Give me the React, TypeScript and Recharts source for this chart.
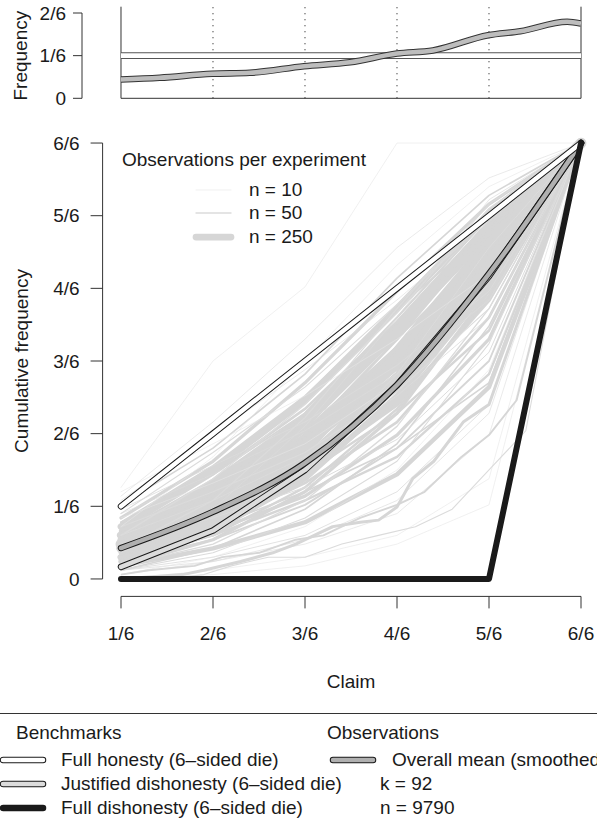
import React from "react";
import { LineChart, Line, XAxis, YAxis, ReferenceLine } from "recharts";

const FONT = "'Liberation Sans', Arial, Helvetica, sans-serif";
const INK = "#1a1a1a";

const claims = [1, 2, 3, 4, 5, 6];
const claimLabels = ["1/6", "2/6", "3/6", "4/6", "5/6", "6/6"];
const cumTicks = [0, 1 / 6, 2 / 6, 3 / 6, 4 / 6, 5 / 6, 1];
const cumLabels = ["0", "1/6", "2/6", "3/6", "4/6", "5/6", "6/6"];
const freqTicks = [0, 1 / 6, 2 / 6];
const freqLabels = ["0", "1/6", "2/6"];

// benchmarks (cumulative frequency at claims 1..6)
const honestyCum = [1 / 6, 2 / 6, 3 / 6, 4 / 6, 5 / 6, 1];
const justifiedCum = [1 / 36, 4 / 36, 9 / 36, 16 / 36, 25 / 36, 1];
const dishonestyCum = [0, 0, 0, 0, 0, 1];
const honestyFreq = [1 / 6, 1 / 6, 1 / 6, 1 / 6, 1 / 6, 1 / 6];

// overall mean (smoothed)
const meanCum = [0.071, 0.154, 0.266, 0.445, 0.7, 1];
const meanFreqClaims = [1, 1.42, 1.99, 2.4, 2.99, 3.49, 4, 4.39, 4.99, 5.34, 5.85, 6];
const meanFreq = [0.0735, 0.08, 0.0957, 0.0996, 0.1254, 0.141, 0.175, 0.187, 0.2466, 0.262, 0.299, 0.292];

// single experiments: cumulative frequency at claims 1..6
const expCum: number[][] = [
  [0.21, 0.5, 0.67, 1, 1, 1],
  [0.19, 0.36, 0.55, 0.76, 0.92, 1],
  [0.17, 0.3, 0.47, 0.69, 0.88, 1],
  [0.14, 0.27, 0.45, 0.66, 0.86, 1],
  [0.12, 0.25, 0.41, 0.62, 0.84, 1],
  [0.1, 0.22, 0.37, 0.58, 0.81, 1],
  [0.09, 0.2, 0.35, 0.56, 0.8, 1],
  [0.08, 0.18, 0.32, 0.52, 0.77, 1],
  [0.07, 0.16, 0.3, 0.5, 0.75, 1],
  [0.06, 0.15, 0.28, 0.47, 0.73, 1],
  [0.05, 0.13, 0.26, 0.45, 0.71, 1],
  [0.04, 0.11, 0.23, 0.42, 0.69, 1],
  [0.03, 0.09, 0.2, 0.38, 0.66, 1],
  [0.11, 0.21, 0.33, 0.5, 0.72, 1],
  [0.13, 0.24, 0.38, 0.55, 0.76, 1],
  [0.06, 0.17, 0.33, 0.55, 0.8, 1],
  [0.09, 0.19, 0.31, 0.46, 0.68, 1],
  [0.05, 0.12, 0.22, 0.36, 0.6, 1],
  [0.02, 0.07, 0.16, 0.31, 0.58, 1],
  [0.08, 0.15, 0.25, 0.4, 0.64, 1],
  [0.1, 0.23, 0.4, 0.61, 0.85, 1],
  [0.15, 0.29, 0.44, 0.63, 0.83, 1],
  [0.07, 0.14, 0.24, 0.38, 0.57, 1],
  [0.04, 0.09, 0.17, 0.3, 0.5, 1],
  [0.03, 0.07, 0.13, 0.24, 0.44, 1],
  [0.02, 0.05, 0.1, 0.2, 0.4, 1],
  [0.01, 0.04, 0.08, 0.15, 0.33, 1],
  [0, 0.01, 0.03, 0.08, 0.17, 1],
  [0.12, 0.2, 0.29, 0.43, 0.62, 1],
  [0.18, 0.33, 0.48, 0.64, 0.82, 1],
  [0.16, 0.26, 0.36, 0.49, 0.66, 1],
  [0.05, 0.14, 0.29, 0.51, 0.78, 1],
  [0.07, 0.17, 0.31, 0.49, 0.74, 1],
  [0.09, 0.21, 0.36, 0.57, 0.79, 1],
  [0.06, 0.13, 0.24, 0.41, 0.67, 1],
  [0.11, 0.24, 0.39, 0.59, 0.82, 1],
  [0.04, 0.1, 0.21, 0.39, 0.65, 1],
  [0.08, 0.19, 0.34, 0.53, 0.78, 1],
  [0.03, 0.08, 0.18, 0.35, 0.62, 1],
  [0.13, 0.26, 0.42, 0.62, 0.8, 1],
  [0.02, 0.06, 0.14, 0.27, 0.54, 1],
  [0.1, 0.18, 0.28, 0.42, 0.6, 1],
  [0.06, 0.16, 0.35, 0.6, 0.87, 1],
  [0.14, 0.22, 0.31, 0.45, 0.7, 1],
  [0.05, 0.11, 0.19, 0.33, 0.55, 1],
  [0.09, 0.17, 0.27, 0.44, 0.7, 1],
  [0.07, 0.18, 0.37, 0.62, 0.86, 1],
  [0.12, 0.28, 0.5, 0.72, 0.9, 1],
  [0.03, 0.1, 0.25, 0.47, 0.76, 1],
  [0.01, 0.05, 0.12, 0.25, 0.48, 1],
  [0.06, 0.12, 0.2, 0.3, 0.45, 1],
  [0.02, 0.04, 0.09, 0.18, 0.38, 1],
  [0.08, 0.14, 0.21, 0.32, 0.52, 1],
  [0.15, 0.24, 0.34, 0.47, 0.64, 1],
  [0.05, 0.1, 0.18, 0.28, 0.47, 1],
  [0.11, 0.19, 0.3, 0.47, 0.74, 1],
  [0.07, 0.15, 0.27, 0.45, 0.72, 1],
  [0.05, 0.12, 0.25, 0.44, 0.7, 1],
  [0.04, 0.12, 0.27, 0.49, 0.77, 1],
  [0.09, 0.2, 0.38, 0.6, 0.83, 1],
  [0.2, 0.31, 0.42, 0.55, 0.7, 1],
  [0, 0.02, 0.05, 0.1, 0.23, 1],
];
const expN = [
  10, 20, 60, 120, 250, 300, 180, 400, 220, 150,
  260, 200, 120, 90, 70, 110, 80, 100, 60, 140,
  50, 40, 90, 70, 160, 30, 20, 10, 40, 20,
  30, 200, 300, 250, 180, 100, 90, 130, 50, 60,
  40, 30, 25, 15, 120, 200, 45, 15, 35, 12,
  60, 25, 35, 20, 90, 160, 350, 230, 140, 80,
  12, 15,
];

// experiments reported on a finer claim scale
const fineClaimsA = [1, 1.67, 1.9, 2.3, 2.65, 2.9, 3.3, 3.6, 3.8, 4.0, 4.17, 4.4, 4.72, 5.0, 6];
const fineCumA = [0, 0.01, 0.02, 0.04, 0.06, 0.08, 0.12, 0.13, 0.135, 0.165, 0.23, 0.27, 0.36, 0.4, 1];
const fineNA = 110;
const fineClaimsB = [1, 1.5, 1.9, 2.2, 2.6, 3.0, 3.4, 3.8, 4.2, 4.6, 5.0, 5.4, 6];
const fineCumB = [0, 0, 0.01, 0.03, 0.05, 0.05, 0.08, 0.1, 0.12, 0.16, 0.25, 0.34, 1];
const fineNB = 40;
const fineClaimsC = [1, 1.3, 1.8, 2.1, 2.5, 2.9, 3.2, 3.6, 4.0, 4.3, 4.7, 5.0, 5.3, 6];
const fineCumC = [0.01, 0.02, 0.03, 0.05, 0.06, 0.09, 0.1, 0.14, 0.17, 0.2, 0.28, 0.33, 0.41, 1];
const fineNC = 70;

const rows = (xs: number[], ys: number[]) => xs.map((x, i) => ({ x, y: ys[i] }));
const widthFor = (n: number) => Math.max(0.6, n * 0.027);
const colorFor = (n: number) => (n < 20 ? "#e6e6e6" : n < 60 ? "#dbdbdb" : "#d6d6d6");
const order = expN.map((_, i) => i).sort((a, b) => expN[b] - expN[a]);

const tickStyle = { fill: INK, fontSize: 19, fontFamily: FONT };

function Band({ inner, outline = INK }: { inner: string; outline?: string }) {
  return (
    <svg width={50} height={12} style={{ display: "block" }}>
      <line x1={5} y1={6} x2={45} y2={6} stroke={outline} strokeWidth={6.5} strokeLinecap="round" />
      <line x1={5} y1={6} x2={45} y2={6} stroke={inner} strokeWidth={4.5} strokeLinecap="round" />
    </svg>
  );
}

function Txt({ x, y, children, size = 19 }: { x: number; y: number; children: React.ReactNode; size?: number }) {
  return (
    <div style={{ position: "absolute", left: x, top: y - 11, height: 22, lineHeight: "22px", fontSize: size, whiteSpace: "nowrap", color: INK }}>
      {children}
    </div>
  );
}

export default function App() {
  return (
    <div style={{ position: "absolute", left: 0, top: 0, width: 597, height: 820, overflow: "hidden", background: "#fff", fontFamily: FONT }}>
      {/* main panel */}
      <div style={{ position: "absolute", left: 0, top: 0 }}>
        <LineChart width={620} height={720} margin={{ top: 125.6, right: 20.6, bottom: 23.6, left: 0 }}>
          <XAxis
            type="number" dataKey="x" domain={[0.8, 6.2]} ticks={claims} interval={0}
            tickFormatter={(v: number) => claimLabels[Math.round(v) - 1]}
            axisLine={false} tickLine={{ stroke: "#333" }} tickSize={12} tickMargin={18}
            height={100} tick={tickStyle} allowDataOverflow
            label={{
              content: (p: any) => (
                <text x={p.viewBox.x + p.viewBox.width / 2} y={681} textAnchor="middle" dominantBaseline="central" fill={INK} fontSize={19} fontFamily={FONT}>
                  Claim
                </text>
              ),
            }}
          />
          <YAxis
            type="number" dataKey="y" domain={[-0.04, 1.04]} ticks={cumTicks} interval={0}
            tickFormatter={(v: number) => cumLabels[Math.round(v * 6)]}
            axisLine={false} tickLine={{ stroke: "#333" }} tickSize={12} tickMargin={11}
            width={102.6} tick={tickStyle} allowDataOverflow
            label={{
              content: (p: any) => {
                const cy = p.viewBox.y + p.viewBox.height / 2;
                return (
                  <text x={21} y={cy} transform={`rotate(-90 21 ${cy})`} textAnchor="middle" dominantBaseline="central" fill={INK} fontSize={19} fontFamily={FONT}>
                    Cumulative frequency
                  </text>
                );
              },
            }}
          />
          <ReferenceLine segment={[{ x: 1, y: -0.04 }, { x: 6, y: -0.04 }]} stroke="#333" ifOverflow="visible" />
          <ReferenceLine segment={[{ x: 0.8, y: 0 }, { x: 0.8, y: 1 }]} stroke="#333" ifOverflow="visible" />

          {order.map((i) => (
            <Line
              key={`e${i}`} data={rows(claims, expCum[i])} dataKey="y" type="linear"
              stroke={colorFor(expN[i])} strokeWidth={widthFor(expN[i])}
              strokeLinecap="round" strokeLinejoin="round"
              dot={false} activeDot={false} isAnimationActive={false}
            />
          ))}
          <Line data={rows(fineClaimsA, fineCumA)} dataKey="y" type="linear" stroke={colorFor(fineNA)} strokeWidth={widthFor(fineNA)} strokeLinejoin="round" dot={false} activeDot={false} isAnimationActive={false} />
          <Line data={rows(fineClaimsB, fineCumB)} dataKey="y" type="linear" stroke={colorFor(fineNB)} strokeWidth={widthFor(fineNB)} strokeLinejoin="round" dot={false} activeDot={false} isAnimationActive={false} />
          <Line data={rows(fineClaimsC, fineCumC)} dataKey="y" type="linear" stroke={colorFor(fineNC)} strokeWidth={widthFor(fineNC)} strokeLinejoin="round" dot={false} activeDot={false} isAnimationActive={false} />

          {/* benchmarks */}
          <Line data={rows(claims, justifiedCum)} dataKey="y" type="linear" stroke={INK} strokeWidth={6.5} strokeLinecap="round" strokeLinejoin="round" dot={false} activeDot={false} isAnimationActive={false} />
          <Line data={rows(claims, justifiedCum)} dataKey="y" type="linear" stroke="#dcdcdc" strokeWidth={4.5} strokeLinecap="round" strokeLinejoin="round" dot={false} activeDot={false} isAnimationActive={false} />
          <Line data={rows(claims, meanCum)} dataKey="y" type="monotone" stroke={INK} strokeWidth={6.5} strokeLinecap="round" strokeLinejoin="round" dot={false} activeDot={false} isAnimationActive={false} />
          <Line data={rows(claims, meanCum)} dataKey="y" type="monotone" stroke="#b0b0b0" strokeWidth={4.5} strokeLinecap="round" strokeLinejoin="round" dot={false} activeDot={false} isAnimationActive={false} />
          <Line data={rows(claims, honestyCum)} dataKey="y" type="linear" stroke={INK} strokeWidth={6.5} strokeLinecap="round" strokeLinejoin="round" dot={false} activeDot={false} isAnimationActive={false} />
          <Line data={rows(claims, honestyCum)} dataKey="y" type="linear" stroke="#fff" strokeWidth={4.5} strokeLinecap="round" strokeLinejoin="round" dot={false} activeDot={false} isAnimationActive={false} />
          <Line data={rows(claims, dishonestyCum)} dataKey="y" type="linear" stroke={INK} strokeWidth={6} strokeLinecap="round" strokeLinejoin="round" dot={false} activeDot={false} isAnimationActive={false} />
        </LineChart>
      </div>

      {/* top panel: frequency */}
      <div style={{ position: "absolute", left: 0, top: 0 }}>
        <LineChart width={620} height={110} margin={{ top: 13, right: 39, bottom: 11.7, left: 0 }}>
          <XAxis type="number" dataKey="x" domain={[0.5761, 6]} hide allowDataOverflow />
          <YAxis
            type="number" dataKey="y" domain={[0, 1 / 3]} ticks={freqTicks} interval={0}
            tickFormatter={(v: number) => freqLabels[Math.round(v * 6)]}
            axisLine={{ stroke: "#333" }} tickLine={{ stroke: "#333" }} tickSize={9} tickMargin={7}
            width={82} tick={tickStyle} allowDataOverflow
            label={{
              content: (p: any) => {
                const cy = p.viewBox.y + p.viewBox.height / 2;
                return (
                  <text x={21} y={cy} transform={`rotate(-90 21 ${cy})`} textAnchor="middle" dominantBaseline="central" fill={INK} fontSize={19} fontFamily={FONT}>
                    Frequency
                  </text>
                );
              },
            }}
          />
          <ReferenceLine segment={[{ x: 1, y: 0 }, { x: 6, y: 0 }]} stroke="#333" ifOverflow="visible" />
          <ReferenceLine segment={[{ x: 1, y: 0 }, { x: 1, y: 0.358 }]} stroke="#333" ifOverflow="visible" />
          <ReferenceLine segment={[{ x: 6, y: 0 }, { x: 6, y: 0.358 }]} stroke="#333" ifOverflow="visible" />
          {[2, 3, 4, 5].map((c) => (
            <ReferenceLine key={c} segment={[{ x: c, y: 0 }, { x: c, y: 0.358 }]} stroke="#333" strokeDasharray="1.2 4.8" ifOverflow="visible" />
          ))}
          <Line data={rows(claims, honestyFreq)} dataKey="y" type="linear" stroke="#555" strokeWidth={6.6} dot={false} activeDot={false} isAnimationActive={false} />
          <Line data={rows(claims, honestyFreq)} dataKey="y" type="linear" stroke="#fff" strokeWidth={4.6} dot={false} activeDot={false} isAnimationActive={false} />
          <Line data={rows(meanFreqClaims, meanFreq)} dataKey="y" type="monotone" stroke="#333" strokeWidth={6.6} dot={false} activeDot={false} isAnimationActive={false} />
          <Line data={rows(meanFreqClaims, meanFreq)} dataKey="y" type="monotone" stroke="#bdbdbd" strokeWidth={4.6} dot={false} activeDot={false} isAnimationActive={false} />
        </LineChart>
      </div>

      {/* legend inside main panel */}
      <Txt x={122} y={160}>Observations per experiment</Txt>
      {[
        { n: 10, label: "n = 10", y: 190 },
        { n: 50, label: "n = 50", y: 213 },
        { n: 250, label: "n = 250", y: 237 },
      ].map((r) => (
        <React.Fragment key={r.label}>
          <svg style={{ position: "absolute", left: 190, top: r.y - 6 }} width={46} height={12}>
            <line x1={6} y1={6} x2={41} y2={6} stroke={colorFor(r.n)} strokeWidth={widthFor(r.n)} strokeLinecap="round" />
          </svg>
          <Txt x={249} y={r.y}>{r.label}</Txt>
        </React.Fragment>
      ))}

      {/* bottom legend */}
      <div style={{ position: "absolute", left: 0, top: 713, width: 597, height: 1, background: "#333" }} />
      <Txt x={16} y={733}>Benchmarks</Txt>
      <Txt x={327} y={733}>Observations</Txt>
      <div style={{ position: "absolute", left: -2, top: 754 }}><Band inner="#fff" /></div>
      <Txt x={61} y={760}>Full honesty (6–sided die)</Txt>
      <div style={{ position: "absolute", left: -2, top: 778 }}><Band inner="#dcdcdc" /></div>
      <Txt x={61} y={784}>Justified dishonesty (6–sided die)</Txt>
      <div style={{ position: "absolute", left: -2, top: 802 }}><Band inner={INK} /></div>
      <Txt x={61} y={808}>Full dishonesty (6–sided die)</Txt>
      <div style={{ position: "absolute", left: 328, top: 754 }}><Band inner="#b0b0b0" /></div>
      <Txt x={392} y={760}>Overall mean (smoothed)</Txt>
      <Txt x={380} y={784}>k = 92</Txt>
      <Txt x={380} y={808}>n = 9790</Txt>
    </div>
  );
}
